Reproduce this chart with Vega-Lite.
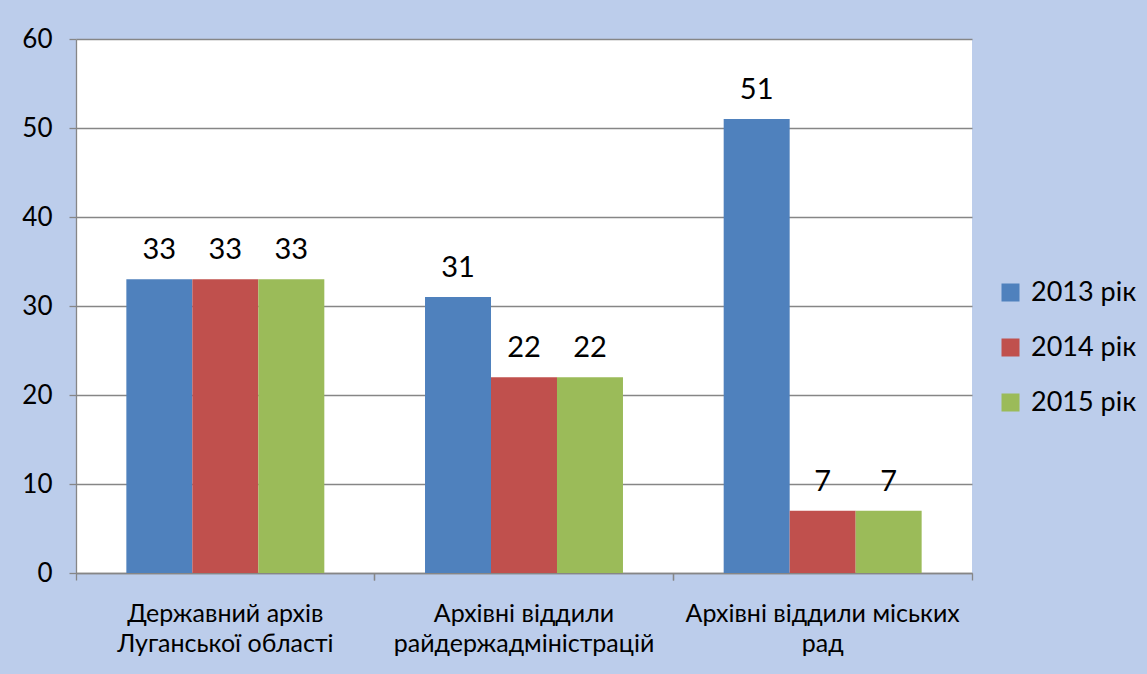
{
  "$schema": "https://vega.github.io/schema/vega-lite/v6.json",
  "width": 896,
  "height": 534,
  "autosize": {"type": "none"},
  "padding": {"left": 76, "top": 39, "right": 175, "bottom": 101},
  "background": "#BCCDEB",
  "config": {
    "view": {"fill": "white", "stroke": null},
    "font": "Lato",
    "axis": {"labelFont": "Lato", "labelColor": "#000000"},
    "legend": {"labelFont": "Lato", "labelColor": "#000000"}
  },
  "data": {
    "values": [
      {"category": "Державний архів\nЛуганської області", "year": "2013 рік", "value": 33},
      {"category": "Державний архів\nЛуганської області", "year": "2014 рік", "value": 33},
      {"category": "Державний архів\nЛуганської області", "year": "2015 рік", "value": 33},
      {"category": "Архівні віддили\nрайдержадміністрацій", "year": "2013 рік", "value": 31},
      {"category": "Архівні віддили\nрайдержадміністрацій", "year": "2014 рік", "value": 22},
      {"category": "Архівні віддили\nрайдержадміністрацій", "year": "2015 рік", "value": 22},
      {"category": "Архівні віддили міських\nрад", "year": "2013 рік", "value": 51},
      {"category": "Архівні віддили міських\nрад", "year": "2014 рік", "value": 7},
      {"category": "Архівні віддили міських\nрад", "year": "2015 рік", "value": 7}
    ]
  },
  "layer": [
    {
      "mark": {"type": "bar"},
      "encoding": {
        "x": {
          "field": "category", "type": "nominal", "sort": null,
          "scale": {"paddingInner": 0, "paddingOuter": 0},
          "axis": {
            "title": null, "orient": "bottom", "labelAngle": 0, "bandPosition": 0,
            "labelExpr": "split(datum.label, '\\n')",
            "labelFontSize": 25, "labelLineHeight": 30, "labelPadding": 21,
            "labelBaseline": "top", "labelLimit": 0,
            "tickSize": 7, "tickColor": "#868686", "tickWidth": 1.3,
            "domainColor": "#868686", "domainWidth": 1.3, "grid": false
          }
        },
        "xOffset": {"field": "year", "type": "nominal", "scale": {"paddingInner": 0, "paddingOuter": 0.763}},
        "y": {
          "field": "value", "type": "quantitative",
          "scale": {"domain": [0, 60], "nice": false},
          "axis": {
            "title": null, "values": [0, 10, 20, 30, 40, 50, 60],
            "labelFontSize": 26, "labelPadding": 17,
            "tickSize": 7, "tickColor": "#868686", "tickWidth": 1.3,
            "domainColor": "#868686", "domainWidth": 1.3,
            "grid": true, "gridColor": "#868686", "gridWidth": 1.3
          }
        },
        "color": {
          "field": "year", "type": "nominal",
          "scale": {"range": ["#4F81BD", "#C0504D", "#9BBB59"]},
          "legend": {
            "title": null, "orient": "none", "legendX": 921, "legendY": 240,
            "symbolType": "square", "symbolSize": 324, "symbolStrokeWidth": 0,
            "labelFontSize": 27, "labelOffset": 7, "rowPadding": 27
          }
        }
      }
    },
    {
      "mark": {"type": "text", "baseline": "alphabetic", "dy": -20, "fontSize": 29, "color": "#000000"},
      "encoding": {
        "x": {
          "field": "category", "type": "nominal", "sort": null,
          "axis": {
            "title": null, "orient": "bottom", "bandPosition": 1, "labels": false,
            "domain": false, "grid": false,
            "tickSize": 7, "tickColor": "#868686", "tickWidth": 1.3
          }
        },
        "xOffset": {"field": "year", "type": "nominal"},
        "y": {"field": "value", "type": "quantitative"},
        "text": {"field": "value", "type": "quantitative"}
      }
    }
  ],
  "resolve": {"axis": {"x": "independent"}}
}
